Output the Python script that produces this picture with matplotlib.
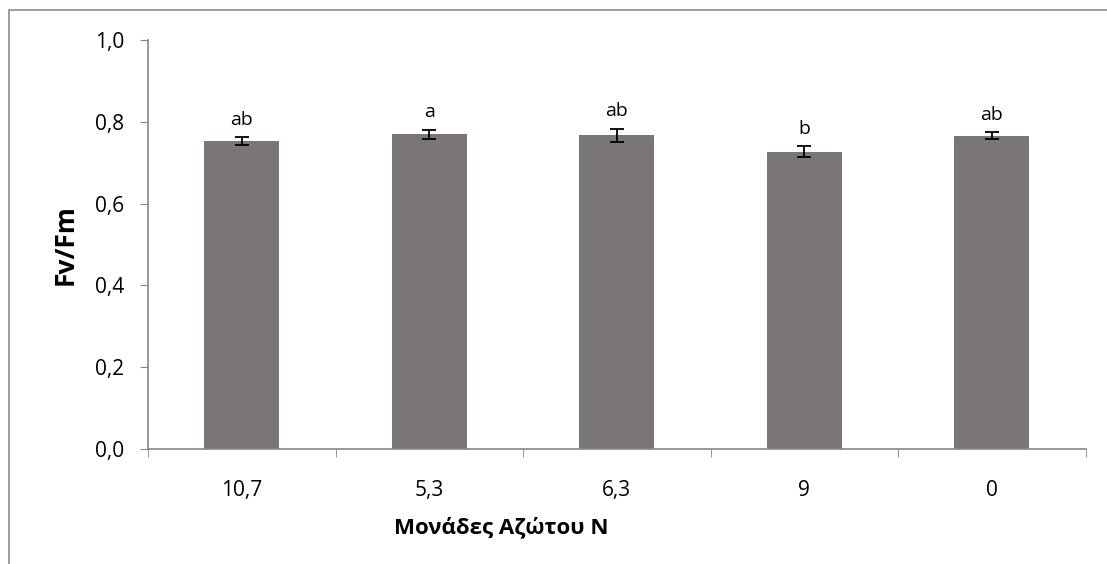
import matplotlib
matplotlib.use("Agg")
import matplotlib.pyplot as plt
from matplotlib.patches import Rectangle
from matplotlib.ticker import FixedLocator, FuncFormatter

# ─── Data ───────────────────────────────────────────────────────────────────
categories = ["10,7", "5,3", "6,3", "9", "0"]
fv_fm = [0.753, 0.770, 0.767, 0.727, 0.766]
errors = [0.009, 0.011, 0.016, 0.013, 0.009]
letters = ["ab", "a", "ab", "b", "ab"]

plt.rcParams["font.family"] = ["Open Sans", "DejaVu Sans"]

fig = plt.figure(figsize=(11.07, 5.64), dpi=100)
ax = fig.add_axes([0.1337, 0.2039, 0.8469, 0.7251])

# light frame around the chart area (Excel-like chart border)
fig.patches.append(Rectangle((0.008, -0.1), 1.2, 1.082, transform=fig.transFigure,
                             fill=False, edgecolor="#8c8c8c", linewidth=1.2))

x = list(range(len(categories)))
ax.bar(x, fv_fm, width=0.4, color="#7a7676", zorder=2)
ax.errorbar(x, fv_fm, yerr=errors, fmt="none", ecolor="black",
            elinewidth=1.3, capsize=5, capthick=1.3, zorder=3)

for xi, v, e, lab in zip(x, fv_fm, errors, letters):
    ax.annotate(lab, (xi, v + e), xytext=(0, 6), textcoords="offset points",
                ha="center", va="bottom", fontsize=14)

ax.set_xlim(-0.5, len(categories) - 0.5)
ax.set_ylim(0, 1.0)
ax.set_yticks([0, 0.2, 0.4, 0.6, 0.8, 1.0])
ax.yaxis.set_major_formatter(FuncFormatter(lambda v, p: f"{v:.1f}".replace(".", ",")))

ax.set_xticks(x)
ax.set_xticklabels(categories)
ax.xaxis.set_minor_locator(FixedLocator([i - 0.5 for i in range(len(categories) + 1)]))
ax.tick_params(axis="x", which="major", length=0, pad=22, labelsize=15)
ax.tick_params(axis="x", which="minor", length=6, color="#868686", direction="out")
ax.tick_params(axis="y", length=6, color="#868686", direction="out", pad=11, labelsize=15)

for s in ("top", "right"):
    ax.spines[s].set_visible(False)
for s in ("left", "bottom"):
    ax.spines[s].set_color("#868686")
    ax.spines[s].set_linewidth(1.2)

ax.set_ylabel("Fv/Fm", fontsize=19, fontweight="bold", labelpad=12)
ax.set_xlabel("Μονάδες Αζώτου Ν", fontsize=16, fontweight="bold")
ax.xaxis.set_label_coords(0.3765, -0.165)

fig.savefig("out.png", dpi=100)
